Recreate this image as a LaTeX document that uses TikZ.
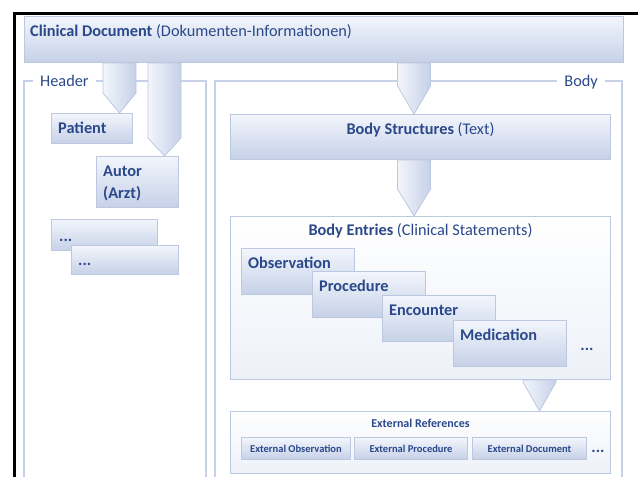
\documentclass[tikz,border=0pt]{standalone}
\usepackage{fontspec}
\setmainfont{Carlito}
\usetikzlibrary{calc}

\definecolor{txtblue}{HTML}{2A488A}
\definecolor{boxline}{HTML}{BCC8E0}
\definecolor{boxtop}{HTML}{F2F5FB}
\definecolor{boxbot}{HTML}{C6D1E8}
\definecolor{frameline}{HTML}{C6D1E7}
\definecolor{paneltop}{HTML}{FFFFFF}
\definecolor{panelbot}{HTML}{EDF1F8}

\pgfdeclarelayer{back}
\pgfsetlayers{back,main}

\tikzset{
  box/.style={draw=boxline, line width=1pt, top color=boxtop, bottom color=boxbot,
    anchor=north west, inner sep=0pt},
  panel/.style={box, top color=paneltop, bottom color=panelbot},
  lbl/.style={text=txtblue, font=\fontsize{16.3}{22}\selectfont, inner sep=0pt},
  smalllbl/.style={lbl, font=\fontsize{10.5}{12}\selectfont\bfseries},
  framelbl/.style={lbl, fill=white, inner xsep=7pt, inner ysep=2pt},
  pointer/.style={draw=boxline, line width=0.8pt, left color=boxtop, right color=boxbot},
  frame/.style={draw=frameline, line width=1.5pt}
}

% pentagon pointer: from node, to node, x centre, half width, tip length
\newcommand{\downpointer}[5]{%
  \path[pointer] let \p1=(#1.south), \p2=(#2.north) in
    ({#3pt-#4pt},\y1) -- ({#3pt+#4pt},\y1) -- ({#3pt+#4pt},{\y2+#5pt})
    -- (#3pt,\y2) -- ({#3pt-#4pt},{\y2+#5pt}) -- cycle;
}

\begin{document}
\begin{tikzpicture}[x=1pt, y=-1pt]
\useasboundingbox (0,0) rectangle (638,477);

% screenshot edge
\draw[line width=3pt] (14.7,477) -- (14.7,13.3) -- (638,13.3);

% Document
\node[box, minimum width=599pt, minimum height=46pt] (clindoc) at (24,16) {};
\node[lbl, anchor=base west] (clindoct) at ([shift={(6,20)}]clindoc.north west)
  {\textbf{Clinical Document} (Dokumenten-Informationen)};

% Header
\node[box, minimum width=81pt, minimum height=30pt] (patient) at (51,113) {};
\node[lbl, anchor=base west] (patientt) at ([shift={(7,20)}]patient.north west)
  {\textbf{Patient}};
\node[box, minimum width=82pt, minimum height=51pt] (autor) at (96,156) {};
\node[lbl, anchor=north west, align=left] (autort) at ([shift={(7,10)}]autor.north west)
  {\textbf{Autor}\\\textbf{(Arzt)}};
\node[box, minimum width=106pt, minimum height=31pt] (hmore) at (51,219) {};
\node[lbl, anchor=base west] (hmoret) at ([shift={(8,22)}]hmore.north west) {\textbf{...}};
\node[box, minimum width=107pt, minimum height=29pt] (hmoreb) at (71,245) {};
\node[lbl, anchor=base west] (hmorebt) at ([shift={(7,20)}]hmoreb.north west) {\textbf{...}};

% Body
\node[box, minimum width=380pt, minimum height=45pt] (bstruct) at (230,114) {};
\node[lbl, anchor=base] (bstructt) at ([shift={(0,20)}]bstruct.north)
  {\textbf{Body Structures} (Text)};

\node[panel, minimum width=380pt, minimum height=163pt] (entries) at (230,216) {};
\node[lbl, anchor=base] (entriest) at ([shift={(0,19)}]entries.north)
  {\textbf{Body Entries} (Clinical Statements)};

\foreach \x/\y/\n/\t in {241/248/obs/Observation, 312/271/proc/Procedure,
                         382/295/enc/Encounter, 453/320/med/Medication}
{
  \node[box, minimum width=113pt, minimum height=46pt] (\n) at (\x,\y) {};
  \node[lbl, anchor=base west] (\n t) at ([shift={(7,20)}]\n.north west) {\textbf{\t}};
}
\node[lbl, anchor=base] (entmore) at (587,350) {\textbf{...}};

\node[panel, minimum width=380pt, minimum height=62pt] (extref) at (230,411) {};
\node[smalllbl, font=\fontsize{12}{14}\selectfont\bfseries, anchor=base] (extreft)
  at ([shift={(0,16)}]extref.north) {External References};

\foreach \x/\w/\n/\t in {241/109/extobs/External Observation,
                         354/113/extproc/External Procedure,
                         472/114/extdoc/External Document}
{
  \node[box, minimum width=\w pt, minimum height=22pt] (\n) at (\x,437) {};
  \node[smalllbl] (\n t) at (\n.center) {\t};
}
\node[lbl, anchor=base] (extmore) at (598,452) {\textbf{...}};

% frames and pointers behind the boxes
\begin{pgfonlayer}{back}
\draw[frame] (24,477) -- (24,81) -- (206,81) -- (206,477);
\draw[frame] (215,477) -- (215,81) -- (622,81) -- (622,477);
\node[framelbl, anchor=base west] (header) at (33,86) {Header};
\node[framelbl, anchor=base east] (body) at (605,86) {Body};

\downpointer{clindoc}{patient}{119.5}{16.5}{20}
\downpointer{clindoc}{autor}{164.5}{16.5}{18}
\downpointer{clindoc}{bstruct}{414}{16.5}{28}
\downpointer{bstruct}{entries}{414}{16.5}{27}
\downpointer{entries}{extref}{539.5}{16.5}{29}
\end{pgfonlayer}

\end{tikzpicture}
\end{document}
